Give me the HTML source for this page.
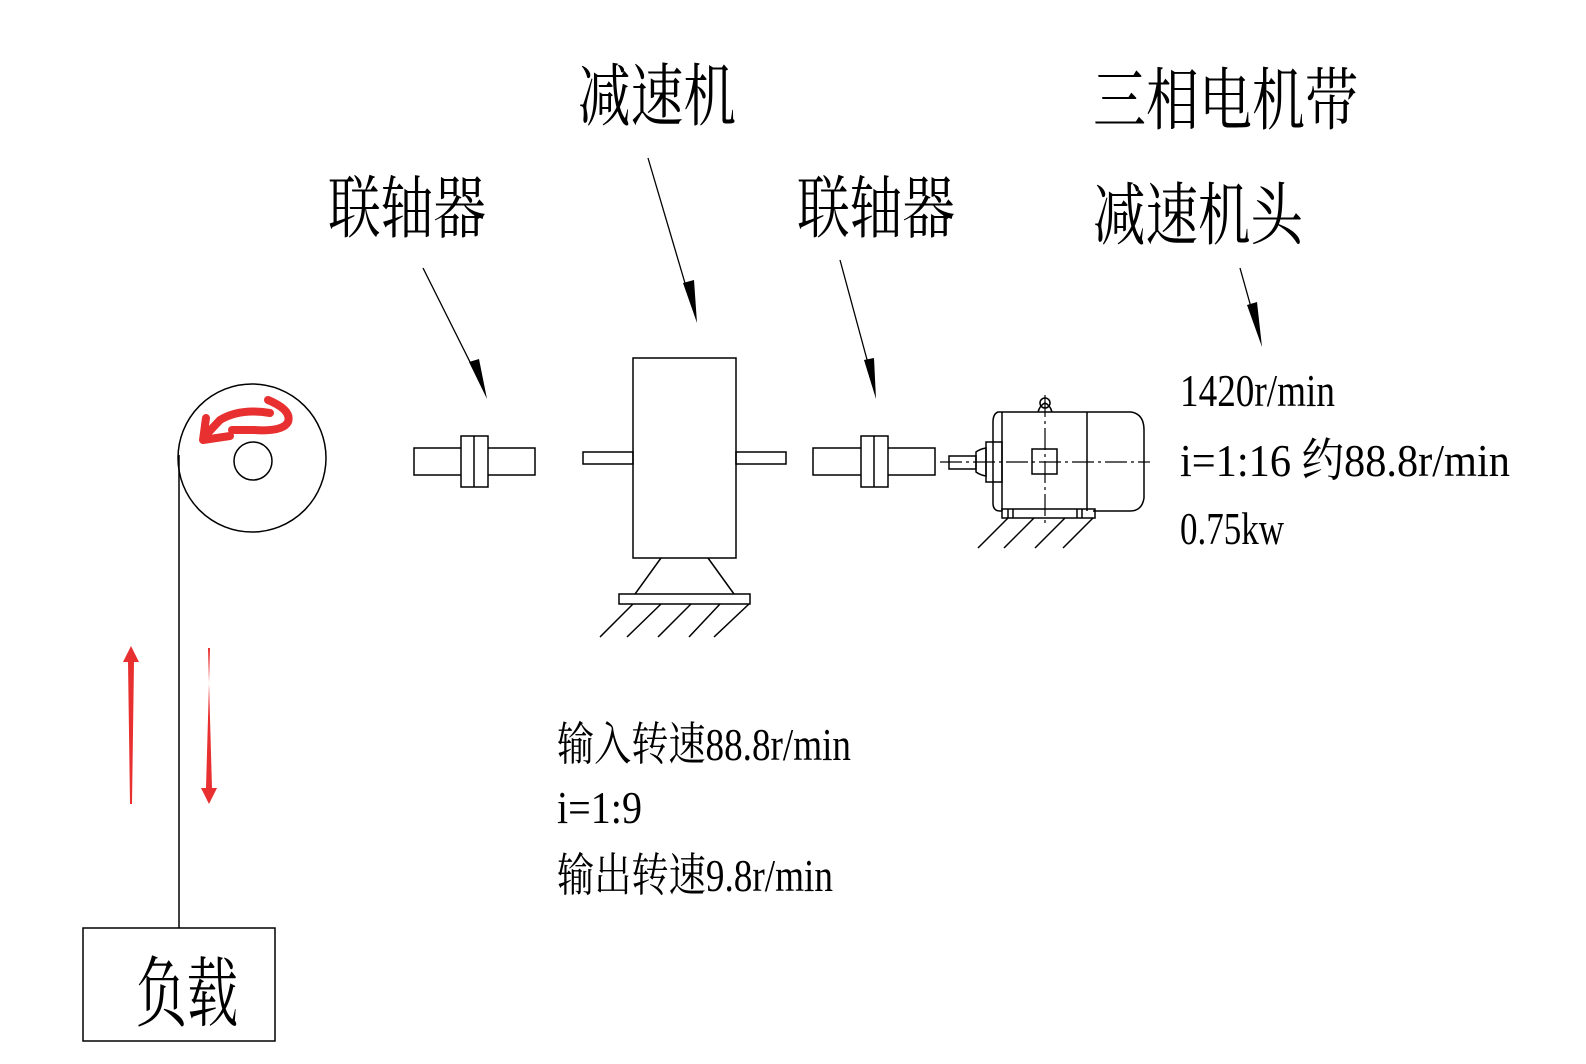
<!DOCTYPE html>
<html><head><meta charset="utf-8"><style>
html,body{margin:0;padding:0;background:#fff;}
svg{display:block;}
.c{font-family:"Liberation Serif","Noto Serif CJK SC",serif;fill:#000;}
</style></head><body>
<svg width="1586" height="1064" viewBox="0 0 1586 1064" xmlns="http://www.w3.org/2000/svg">
<g fill="none" stroke="#000" stroke-width="1.5">
<circle cx="252" cy="458" r="74"/>
<circle cx="253" cy="461" r="19"/>
<line x1="179" y1="455" x2="179" y2="928"/>
<rect x="83" y="928" width="192" height="113"/>
<rect x="414" y="448" width="121" height="27"/>
<rect x="461" y="436" width="27" height="51" fill="#fff"/>
<line x1="474" y1="436" x2="474" y2="487"/>
<rect x="583" y="452" width="50" height="12"/>
<rect x="736" y="452" width="50" height="12"/>
<rect x="633" y="358" width="103" height="200"/>
<line x1="661" y1="558" x2="635" y2="594"/>
<line x1="708" y1="558" x2="734" y2="594"/>
<rect x="619" y="594" width="131" height="10"/>
<line x1="633" y1="604" x2="600" y2="637"/>
<line x1="661" y1="604" x2="627" y2="637"/>
<line x1="691" y1="604" x2="658" y2="637"/>
<line x1="720" y1="604" x2="689" y2="637"/>
<line x1="749" y1="604" x2="714" y2="637"/>
<rect x="813" y="448" width="122" height="27"/>
<rect x="861" y="436" width="27" height="51" fill="#fff"/>
<line x1="874" y1="436" x2="874" y2="487"/>
<rect x="949" y="456" width="27" height="13"/>
<path d="M976 452 Q980 449 986 448 L986 476 Q980 475 976 472 Z"/>
<rect x="986" y="442" width="16" height="40"/>
<path d="M1002 412 L998 412 Q993 414 993 422 L993 503 Q993 511 1000 511 L1002 511"/>
<path d="M1002 412 L1131 412 Q1144 414 1144 430 L1144 498 Q1142 511 1130 511 L1093 511"/>
<line x1="1002" y1="412" x2="1002" y2="511"/>
<line x1="1087" y1="412" x2="1087" y2="511"/>
<rect x="1002" y="509" width="93" height="9"/>
<line x1="1008" y1="509" x2="1008" y2="518"/><line x1="1013" y1="509" x2="1013" y2="518"/>
<line x1="1077" y1="509" x2="1077" y2="518"/><line x1="1082" y1="509" x2="1082" y2="518"/>
<rect x="1032" y="449" width="25" height="25"/>
<circle cx="1045" cy="403" r="5"/>
<path d="M1038 412 Q1040 405 1045 403 M1052 412 Q1050 405 1045 403"/>
<line x1="1008" y1="518" x2="978" y2="548"/>
<line x1="1034" y1="518" x2="1004" y2="548"/>
<line x1="1065" y1="518" x2="1035" y2="548"/>
<line x1="1093" y1="518" x2="1063" y2="548"/>
</g>
<g stroke="#000" stroke-width="1.2" stroke-dasharray="22,4,3,4" fill="none">
<line x1="940" y1="462" x2="1150" y2="462"/>
<line x1="1045" y1="395" x2="1045" y2="525"/>
</g>
<g stroke="#000" stroke-width="1.3">
<line x1="423" y1="268" x2="478" y2="378"/>
<line x1="648" y1="158" x2="690" y2="300"/>
<line x1="840" y1="260" x2="872" y2="378"/>
<line x1="1240" y1="268" x2="1256" y2="325"/>
</g>
<g fill="#000">
<polygon points="487,399 469,362 479,359"/>
<polygon points="697,323 683,283 694,280"/>
<polygon points="876,399 864,360 874,358"/>
<polygon points="1262,347 1247,305 1257,302"/>
</g>
<g fill="#e83030" stroke="none">
<polygon points="131,646 139,662 134,662 132,804 130,804 128,662 123,662"/>
<polygon points="209,804 201,788 206,788 210,648 208,648 212,788 217,788"/>
</g>
<path d="M268 400 Q292 410 288 422 Q283 432 254 430 L232 430" stroke="#e83030" stroke-width="8" fill="none" stroke-linecap="round"/>
<path d="M270 413 Q240 408 220 420 L205 436" stroke="#e83030" stroke-width="8" fill="none" stroke-linecap="round"/>
<path d="M206 418 L203 440 L230 436" stroke="#e83030" stroke-width="8" fill="none" stroke-linecap="round" stroke-linejoin="round"/>
<g class="c">
<text x="578" y="120" font-size="68" textLength="158" lengthAdjust="spacingAndGlyphs">减速机</text>
<text x="328" y="232" font-size="68" textLength="158" lengthAdjust="spacingAndGlyphs">联轴器</text>
<text x="797" y="232" font-size="68" textLength="158" lengthAdjust="spacingAndGlyphs">联轴器</text>
<text x="1093" y="124" font-size="68" textLength="265" lengthAdjust="spacingAndGlyphs">三相电机带</text>
<text x="1093" y="239" font-size="68" textLength="210" lengthAdjust="spacingAndGlyphs">减速机头</text>
<text x="136" y="1020" font-size="76" textLength="102" lengthAdjust="spacingAndGlyphs">负载</text>
<text x="1180" y="406" font-size="46" textLength="155" lengthAdjust="spacingAndGlyphs">1420r/min</text>
<text x="1180" y="476" font-size="46" textLength="330" lengthAdjust="spacingAndGlyphs">i=1:16  约88.8r/min</text>
<text x="1180" y="544" font-size="46" textLength="104" lengthAdjust="spacingAndGlyphs">0.75kw</text>
<text x="557" y="760" font-size="46" textLength="294" lengthAdjust="spacingAndGlyphs">输入转速88.8r/min</text>
<text x="557" y="823" font-size="46" textLength="85" lengthAdjust="spacingAndGlyphs">i=1:9</text>
<text x="557" y="891" font-size="46" textLength="276" lengthAdjust="spacingAndGlyphs">输出转速9.8r/min</text>
</g>
</svg>
</body></html>
